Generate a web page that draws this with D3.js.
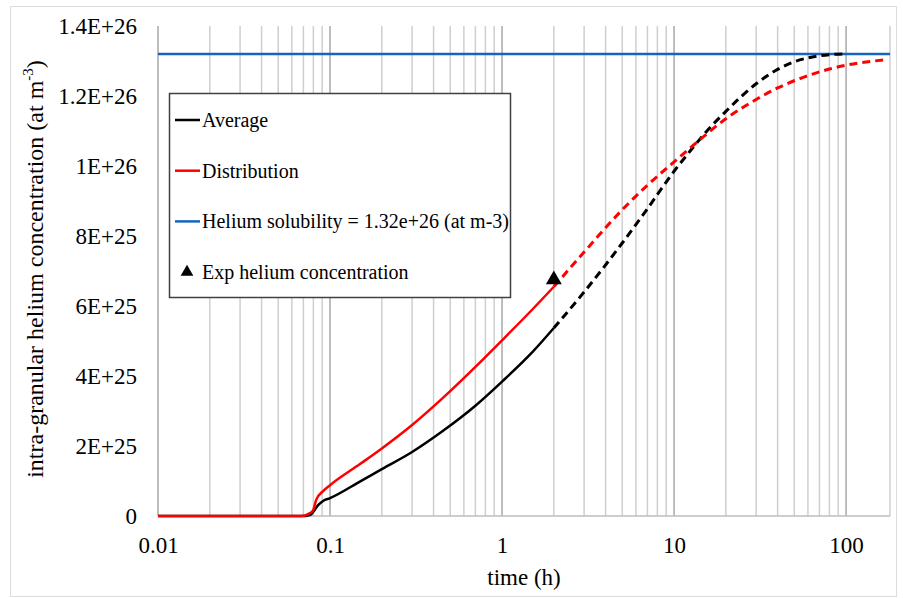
<!DOCTYPE html>
<html>
<head>
<meta charset="utf-8">
<script src="https://cdn.jsdelivr.net/npm/d3@7"></script>
<style>
    body { margin: 0; background: #fff; }
    svg text { font-family: 'Liberation Serif', 'Times New Roman', serif; }
</style>
</head>
<body>
<div id="chart"></div>
<script>
// data (concentration in units of 1E+25 at m-3, time in hours)
const avgSolidT = [0.01, 0.05, 0.072, 0.077, 0.08, 0.0853, 0.0911, 0.1, 0.15, 0.2, 0.3, 0.45, 0.7, 1, 1.5, 2];
const avgSolidV = [0, 0, 0, 0.03, 0.12, 0.31, 0.43, 0.51, 0.99, 1.34, 1.83, 2.42, 3.15, 3.84, 4.68, 5.37];
const avgDashT = [2, 3, 5, 7, 10, 13, 15, 20, 30, 40, 50, 60, 80, 100];
const avgDashV = [5.37, 6.4, 7.8, 8.78, 9.85, 10.55, 10.92, 11.56, 12.35, 12.76, 12.98, 13.09, 13.18, 13.2];
const distSolidT = [0.01, 0.05, 0.068, 0.075, 0.0798, 0.0831, 0.0911, 0.1, 0.15, 0.2, 0.3, 0.45, 0.7, 1, 1.5, 2];
const distSolidV = [0, 0, 0, 0.06, 0.17, 0.46, 0.71, 0.88, 1.49, 1.93, 2.6, 3.36, 4.26, 5.02, 5.9, 6.55];
const distDashT = [2, 3, 5, 7, 10, 13, 20, 30, 40, 60, 80, 100, 165];
const distDashV = [6.55, 7.54, 8.75, 9.45, 10.12, 10.6, 11.35, 11.9, 12.23, 12.58, 12.77, 12.88, 13.03];
const solubility = 13.2;
const expT = 2, expV = 6.75;

const xTicks = [0.01, 0.1, 1, 10, 100];
const xTickLabels = ["0.01", "0.1", "1", "10", "100"];
const yTicks = [0, 2, 4, 6, 8, 10, 12, 14];
const yTickLabels = ["0", "2E+25", "4E+25", "6E+25", "8E+25", "1E+26", "1.2E+26", "1.4E+26"];
const legendLabels = ["Average", "Distribution", "Helium solubility = 1.32e+26 (at m-3)", "Exp helium concentration"];

const FONT = "'Liberation Serif', 'Times New Roman', serif";
const W = 903, H = 598;
const margin = { top: 26, right: 13, bottom: 82, left: 158 },
    width = W - margin.left - margin.right,
    height = H - margin.top - margin.bottom;

const svg = d3.select("#chart").append("svg")
    .attr("width", W)
    .attr("height", H)
    .attr("font-family", FONT);

// outer frame
svg.append("rect")
    .attr("x", 10.5).attr("y", 6.5)
    .attr("width", 886).attr("height", 590)
    .attr("fill", "none")
    .attr("stroke", "#dcdcdc");

const g = svg.append("g")
    .attr("transform", "translate(" + margin.left + "," + margin.top + ")");

const x = d3.scaleLog().domain([0.01, 180]).range([0, width]);
const y = d3.scaleLinear().domain([0, 14]).range([height, 0]);

// vertical grid lines (minor + major)
const minor = [];
[0.01, 0.1, 1, 10, 100].forEach(p => {
    for (let k = 2; k <= 9; k++) if (p * k <= 180) minor.push(p * k);
});
g.append("g")
    .selectAll("line")
    .data(minor.concat([180]))
    .enter().append("line")
    .attr("x1", d => x(d)).attr("x2", d => x(d))
    .attr("y1", 0).attr("y2", height)
    .attr("stroke", "#cfcfcf")
    .attr("stroke-width", 1.5);
g.append("g")
    .selectAll("line")
    .data(xTicks)
    .enter().append("line")
    .attr("x1", d => x(d)).attr("x2", d => x(d))
    .attr("y1", 0).attr("y2", height)
    .attr("stroke", "#a8a8a8")
    .attr("stroke-width", 1.5);

// bottom axis line
g.append("line")
    .attr("x1", 0).attr("x2", width)
    .attr("y1", height).attr("y2", height)
    .attr("stroke", "#bdbdbd")
    .attr("stroke-width", 1.5);

// axes
const xAxis = g.append("g")
    .attr("transform", "translate(0," + height + ")")
    .call(d3.axisBottom(x).tickValues(xTicks).tickSize(0).tickPadding(21)
        .tickFormat((d, i) => xTickLabels[i]));
xAxis.select(".domain").remove();
xAxis.selectAll("text").attr("font-size", 23).attr("font-family", FONT).attr("fill", "#000");

const yAxis = g.append("g")
    .call(d3.axisLeft(y).tickValues(yTicks).tickSize(0).tickPadding(21)
        .tickFormat((d, i) => yTickLabels[i]));
yAxis.select(".domain").remove();
yAxis.selectAll("text").attr("font-size", 23).attr("font-family", FONT).attr("fill", "#000");

// solubility line
g.append("line")
    .attr("x1", 0).attr("x2", width)
    .attr("y1", y(solubility)).attr("y2", y(solubility))
    .attr("stroke", "#1565c0")
    .attr("stroke-width", 2.5);

const line = d3.line()
    .x(d => x(d[0]))
    .y(d => y(d[1]))
    .curve(d3.curveMonotoneX);

const zip = (a, b) => a.map((t, i) => [t, b[i]]);

g.append("path").datum(zip(avgDashT, avgDashV))
    .attr("d", line).attr("fill", "none")
    .attr("stroke", "#000").attr("stroke-width", 3)
    .attr("stroke-dasharray", "8,5");
g.append("path").datum(zip(distDashT, distDashV))
    .attr("d", line).attr("fill", "none")
    .attr("stroke", "#ff0000").attr("stroke-width", 3)
    .attr("stroke-dasharray", "8,5");
g.append("path").datum(zip(avgSolidT, avgSolidV))
    .attr("d", line).attr("fill", "none")
    .attr("stroke", "#000").attr("stroke-width", 2.5);
g.append("path").datum(zip(distSolidT, distSolidV))
    .attr("d", line).attr("fill", "none")
    .attr("stroke", "#ff0000").attr("stroke-width", 2.5);

// experimental point
g.append("path")
    .attr("d", d3.symbol(d3.symbolTriangle, 110)())
    .attr("transform", "translate(" + x(expT) + "," + y(expV) + ")")
    .attr("fill", "#000");

// axis titles
svg.append("text")
    .attr("x", margin.left + width / 2).attr("y", 585)
    .attr("text-anchor", "middle")
    .attr("font-size", 23)
    .attr("font-family", FONT)
    .text("time (h)");

const yl = svg.append("text")
    .attr("transform", "translate(43," + (margin.top + height / 2 - 2) + ") rotate(-90)")
    .attr("text-anchor", "middle")
    .attr("font-family", FONT)
    .attr("font-size", 24);
yl.append("tspan").text("intra-granular helium concentration (at m");
yl.append("tspan").attr("font-size", 15).attr("dy", -10).text("-3");
yl.append("tspan").attr("dy", 10).text(")");

// legend
const lg = svg.append("g").attr("transform", "translate(169,93)");
lg.append("rect")
    .attr("x", 0.5).attr("y", 0.5)
    .attr("width", 341).attr("height", 204)
    .attr("fill", "#fff")
    .attr("stroke", "#404040")
    .attr("stroke-width", 1.5);
const legendColors = ["#000", "#ff0000", "#1565c0", null];
legendLabels.forEach((lab, i) => {
    const ly = 27 + i * 50.7;
    if (legendColors[i]) {
        lg.append("line")
            .attr("x1", 6).attr("x2", 31)
            .attr("y1", ly).attr("y2", ly)
            .attr("stroke", legendColors[i])
            .attr("stroke-width", 2.5);
    } else {
        lg.append("path")
            .attr("d", d3.symbol(d3.symbolTriangle, 70)())
            .attr("transform", "translate(18," + ly + ")")
            .attr("fill", "#000");
    }
    lg.append("text")
        .attr("x", 33).attr("y", ly)
        .attr("dy", "0.35em")
        .attr("font-size", 20)
        .attr("font-family", FONT)
        .text(lab);
});
</script>
</body>
</html>
